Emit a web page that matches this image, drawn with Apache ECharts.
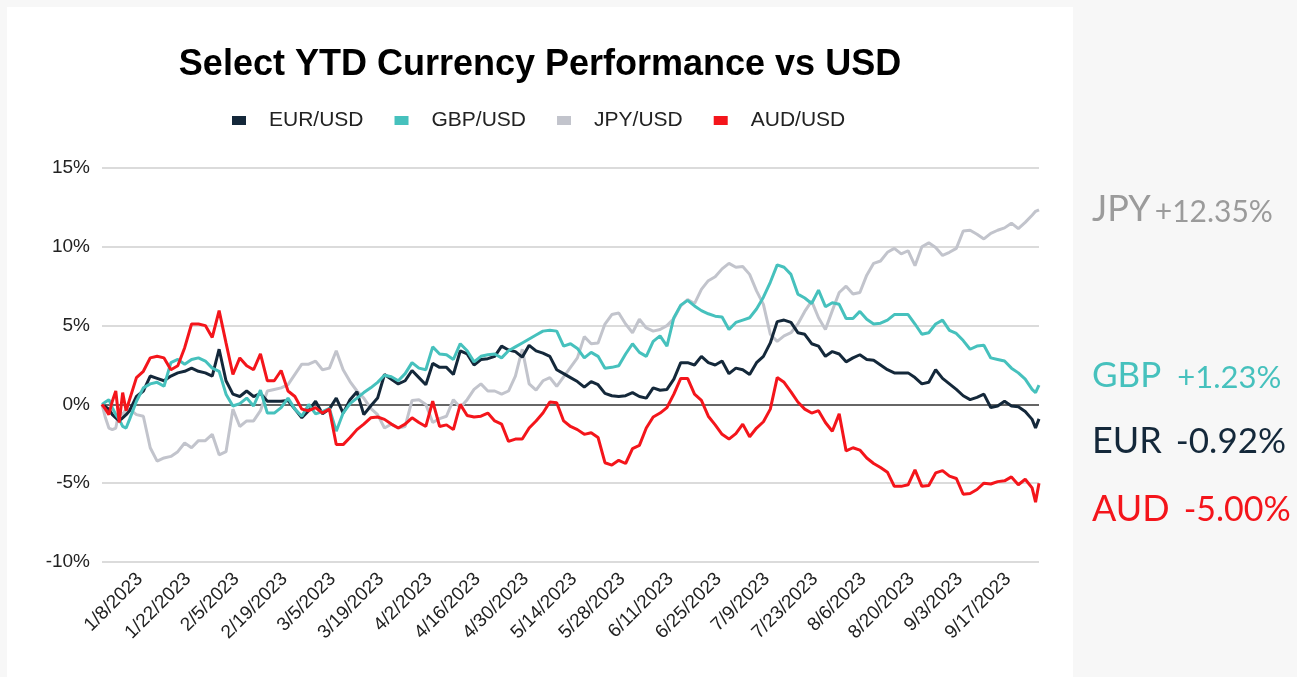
<!DOCTYPE html>
<html>
<head>
<meta charset="utf-8">
<title>Select YTD Currency Performance vs USD</title>
<script src="https://cdn.jsdelivr.net/npm/echarts@6/dist/echarts.min.js"></script>
<style>
  html, body { margin: 0; padding: 0; background: #f7f7f7; }
  #chart { width: 1297px; height: 677px; }
</style>
</head>
<body>
<div id="chart"></div>
<script>
var obsDates = [
  '12/28/2022','12/29/2022','12/30/2022','12/31/2022','1/1/2023','1/2/2023','1/3/2023','1/4/2023','1/5/2023',
  '1/7/2023','1/9/2023','1/11/2023','1/13/2023','1/15/2023','1/17/2023','1/19/2023','1/21/2023','1/23/2023',
  '1/25/2023','1/27/2023','1/29/2023','1/31/2023','2/2/2023','2/4/2023','2/6/2023','2/8/2023','2/10/2023',
  '2/12/2023','2/14/2023','2/16/2023','2/18/2023','2/20/2023','2/22/2023','2/24/2023','2/26/2023','2/28/2023',
  '3/2/2023','3/4/2023','3/6/2023','3/8/2023','3/10/2023','3/12/2023','3/14/2023','3/16/2023','3/18/2023',
  '3/20/2023','3/22/2023','3/24/2023','3/26/2023','3/28/2023','3/30/2023','4/1/2023','4/3/2023','4/5/2023',
  '4/7/2023','4/9/2023','4/11/2023','4/13/2023','4/15/2023','4/17/2023','4/19/2023','4/21/2023','4/23/2023',
  '4/25/2023','4/27/2023','4/29/2023','5/1/2023','5/3/2023','5/5/2023','5/7/2023','5/9/2023','5/11/2023',
  '5/13/2023','5/15/2023','5/17/2023','5/19/2023','5/21/2023','5/23/2023','5/25/2023','5/27/2023','5/29/2023',
  '5/31/2023','6/2/2023','6/4/2023','6/6/2023','6/8/2023','6/10/2023','6/12/2023','6/14/2023','6/16/2023',
  '6/18/2023','6/20/2023','6/22/2023','6/24/2023','6/26/2023','6/28/2023','6/30/2023','7/2/2023','7/4/2023',
  '7/6/2023','7/8/2023','7/10/2023','7/12/2023','7/14/2023','7/16/2023','7/18/2023','7/20/2023','7/22/2023',
  '7/24/2023','7/26/2023','7/28/2023','7/30/2023','8/1/2023','8/3/2023','8/5/2023','8/7/2023','8/9/2023',
  '8/11/2023','8/13/2023','8/15/2023','8/17/2023','8/19/2023','8/21/2023','8/23/2023','8/25/2023','8/27/2023',
  '8/29/2023','8/31/2023','9/2/2023','9/4/2023','9/6/2023','9/8/2023','9/10/2023','9/12/2023','9/14/2023',
  '9/16/2023','9/18/2023','9/20/2023','9/22/2023','9/24/2023','9/25/2023','9/26/2023'
];

var eurUsd = [
  0,-0.15,-0.3,-0.65,-0.85,-1.05,-0.85,-0.65,-0.4,
  0.5,0.85,1.8,1.65,1.5,1.8,2.0,2.1,2.3,
  2.1,2.0,1.8,3.5,1.5,0.65,0.5,0.85,0.5,
  0.7,0.2,0.2,0.2,0.25,-0.3,-0.85,-0.4,0.2,
  -0.6,-0.3,0.4,-0.55,0.3,0.8,-0.65,-0.1,0.4,
  1.9,1.6,1.3,1.5,2.15,1.7,1.25,2.6,2.35,
  2.35,1.9,3.4,3.2,2.5,2.85,2.9,3.05,3.7,
  3.45,3.35,3.0,3.75,3.4,3.25,3.05,2.2,1.95,
  1.7,1.45,1.1,1.45,1.25,0.7,0.55,0.5,0.55,
  0.75,0.5,0.4,1.05,0.9,0.95,1.6,2.65,2.65,
  2.5,3.05,2.65,2.5,2.75,1.95,2.3,2.2,1.9,
  2.65,3.05,3.9,5.25,5.35,5.2,4.55,4.45,3.85,
  3.7,3.05,3.35,3.2,2.7,2.95,3.15,2.85,2.8,
  2.5,2.2,2.0,2.0,2.0,1.7,1.3,1.4,2.2,
  1.65,1.3,0.95,0.55,0.3,0.45,0.65,-0.2,-0.1,
  0.2,-0.1,-0.15,-0.45,-0.95,-1.5,-0.92
];

var gbpUsd = [
  0,0.15,0.3,-0.2,-0.65,-0.95,-1.4,-1.5,-0.95,
  0.2,1.05,1.3,1.4,1.15,2.65,2.85,2.55,2.85,
  2.95,2.75,2.3,2.1,0.65,-0.1,0.05,0.4,-0.1,
  0.9,-0.55,-0.55,-0.2,0.4,-0.3,-0.75,0,-0.6,
  -0.45,-0.25,-1.7,-0.55,0.05,0.4,0.75,1.05,1.4,
  1.85,1.75,1.5,1.95,2.65,2.3,2.2,3.65,3.2,
  3.15,2.85,3.85,3.4,2.7,3.05,3.15,3.2,2.95,
  3.4,3.65,3.9,4.15,4.4,4.65,4.7,4.65,3.7,
  3.85,3.55,2.95,3.3,3.05,2.3,2.35,2.45,3.2,
  3.85,3.3,3.05,4.0,4.35,3.7,5.5,6.3,6.6,
  6.25,5.95,5.75,5.6,5.55,4.75,5.2,5.35,5.5,
  6.05,6.8,7.75,8.85,8.7,8.25,7.0,6.75,6.4,
  7.25,6.2,6.45,6.35,5.45,5.45,5.9,5.4,5.1,
  5.15,5.35,5.7,5.7,5.7,5.1,4.45,4.55,5.1,
  5.35,4.7,4.5,4.05,3.5,3.7,3.75,2.95,2.85,
  2.75,2.3,2.0,1.6,0.95,0.75,1.23
];

var jpyUsd = [
  0,-0.85,-1.5,-1.6,-1.5,-0.4,-0.65,-0.3,-0.3,
  -0.65,-0.75,-2.75,-3.6,-3.4,-3.3,-3.0,-2.45,-2.75,
  -2.3,-2.3,-1.9,-3.2,-3.0,-0.3,-1.4,-1.05,-1.05,
  -0.4,0.85,0.95,1.05,1.25,1.9,2.55,2.55,2.75,
  2.2,2.3,3.4,2.2,1.45,0.85,0.4,-0.25,-0.65,
  -1.5,-1.25,-1.5,-1.4,0.25,0.3,0,-1.15,-0.9,
  -0.75,0.3,-0.2,0.3,0.95,1.3,0.85,0.85,0.65,
  0.85,1.8,3.5,1.3,0.9,1.5,1.7,1.15,1.75,
  2.35,2.95,4.3,3.85,3.9,5.1,5.7,5.8,5.1,
  4.55,5.4,4.85,4.65,4.75,5.0,5.45,6.25,6.65,
  6.4,7.3,7.85,8.1,8.6,8.95,8.7,8.75,8.25,
  7.2,6.35,4.45,4.0,4.35,4.55,5.1,5.9,6.55,
  5.5,4.75,5.95,7.1,7.5,7.0,7.1,8.2,8.95,
  9.1,9.65,9.9,9.55,9.75,8.8,10.0,10.25,9.95,
  9.45,9.65,9.9,11.0,11.05,10.8,10.5,10.85,11.05,
  11.2,11.5,11.15,11.55,12.0,12.25,12.35
];

var audUsd = [
  0,-0.3,-0.65,0.2,0.85,-1.15,0.75,-0.4,0.3,
  1.7,2.1,2.95,3.05,2.95,2.2,2.45,3.6,5.1,
  5.1,5.0,4.25,5.95,3.9,1.9,2.95,2.45,2.2,
  3.2,1.5,1.5,2.15,0.85,0.5,-0.3,-0.4,-0.2,
  -0.55,-0.3,-2.55,-2.55,-2.1,-1.6,-1.25,-0.85,-0.8,
  -0.95,-1.25,-1.5,-1.25,-0.85,-1.15,-1.4,0.2,-1.4,
  -1.3,-1.6,0,-0.7,-0.8,-0.75,-0.55,-1.05,-1.25,
  -2.35,-2.2,-2.2,-1.5,-1.05,-0.55,0.15,0.1,-1.05,
  -1.4,-1.6,-1.9,-1.8,-2.1,-3.7,-3.85,-3.55,-3.75,
  -2.8,-2.6,-1.5,-0.8,-0.55,-0.2,0.65,1.65,1.65,
  0.65,0.25,-0.75,-1.3,-1.9,-2.2,-1.85,-1.25,-2.05,
  -1.5,-1.1,-0.3,1.7,1.4,0.8,0.15,-0.3,-0.55,
  -0.4,-1.15,-1.7,-0.6,-2.95,-2.75,-2.9,-3.4,-3.75,
  -4.0,-4.3,-5.2,-5.2,-5.1,-4.15,-5.2,-5.15,-4.35,
  -4.2,-4.55,-4.7,-5.7,-5.65,-5.4,-5.0,-5.05,-4.9,
  -4.85,-4.6,-5.1,-4.75,-5.3,-6.2,-5.0
];

var tickLabels = [
  '1/8/2023','1/22/2023','2/5/2023','2/19/2023','3/5/2023','3/19/2023','4/2/2023',
  '4/16/2023','4/30/2023','5/14/2023','5/28/2023','6/11/2023','6/25/2023','7/9/2023',
  '7/23/2023','8/6/2023','8/20/2023','9/3/2023','9/17/2023'
];
var yTicks = [-10, -5, 0, 5, 10, 15];

var seriesNames = ['EUR/USD', 'GBP/USD', 'JPY/USD', 'AUD/USD'];
var seriesColors = ['#14283a', '#46c1bd', '#c2c4cc', '#f4151b'];
var endLabels = [
  { cur: 'JPY', val: '+12.35%', color: '#9b9b9b' },
  { cur: 'GBP', val: '+1.23%', color: '#46c1bd' },
  { cur: 'EUR', val: '-0.92%', color: '#14283a' },
  { cur: 'AUD', val: '-5.00%', color: '#f4151b' }
];

// every calendar day between the first and last observation (axis categories)
var calendarDays = (function () {
  var out = [];
  var t = Date.UTC(2022, 11, 28), end = Date.UTC(2023, 8, 26);
  for (; t <= end; t += 86400000) {
    var d = new Date(t);
    out.push((d.getUTCMonth() + 1) + '/' + d.getUTCDate() + '/' + d.getUTCFullYear());
  }
  return out;
})();

var pairs = function (vals) {
  return vals.map(function (v, i) { return [obsDates[i], v]; });
};

var chart = echarts.init(document.getElementById('chart'));

var gridColors = yTicks.map(function (v) { return v === 0 ? '#333333' : '#cfcfcf'; });

// label layout in the grey margin: [currency size, number size, gap, top]
var labelFmt = [
  [36, 30, 4, 191],
  [35, 31, 16, 358],
  [36, 35, 14, 423],
  [36, 34, 14, 491]
];

var option = {
  backgroundColor: '#f7f7f7',
  animation: false,
  title: {
    text: 'Select YTD Currency Performance vs USD',
    left: 535,
    top: 42,
    textAlign: 'center',
    textStyle: {
      fontFamily: 'Liberation Sans, Arial, sans-serif',
      fontSize: 36,
      fontWeight: 'bold',
      color: '#000'
    }
  },
  legend: {
    data: seriesNames,
    left: 227,
    top: 105,
    icon: 'rect',
    itemWidth: 14,
    itemHeight: 9,
    itemGap: 31,
    textStyle: {
      fontFamily: 'Liberation Sans, Arial, sans-serif',
      fontSize: 21,
      color: '#222',
      padding: [0, 0, 0, 18]
    }
  },
  grid: { left: 102, right: 258, top: 168, bottom: 115 },
  xAxis: {
    type: 'category',
    data: calendarDays,
    boundaryGap: false,
    axisLine: { show: false },
    axisTick: { show: false },
    splitLine: { show: false },
    axisLabel: {
      interval: function (idx, val) { return tickLabels.indexOf(val) >= 0; },
      rotate: 45,
      margin: 14,
      fontFamily: 'Liberation Sans, Arial, sans-serif',
      fontSize: 19,
      color: '#222'
    }
  },
  yAxis: {
    type: 'value',
    min: -10,
    max: 15,
    interval: 5,
    axisLine: { show: false },
    axisTick: { show: false },
    axisLabel: {
      formatter: '{value}%',
      margin: 12,
      fontFamily: 'Liberation Sans, Arial, sans-serif',
      fontSize: 19,
      color: '#222'
    },
    splitLine: { lineStyle: { color: gridColors, width: 1.5 } }
  },
  series: [eurUsd, gbpUsd, jpyUsd, audUsd].map(function (vals, i) {
    return {
      name: seriesNames[i],
      type: 'line',
      data: pairs(vals),
      showSymbol: false,
      symbol: 'none',
      color: seriesColors[i],
      lineStyle: { width: 3, color: seriesColors[i] },
      z: i === 2 ? 1 : 2 + i
    };
  }),
  graphic: [
    {
      type: 'rect',
      shape: { x: 7, y: 7, width: 1066, height: 670 },
      style: { fill: '#ffffff' },
      z: -10,
      silent: true
    }
  ].concat(endLabels.map(function (l, i) {
    var f = labelFmt[i];
    return {
      type: 'text',
      left: 1092,
      top: f[3],
      style: {
        text: '{a|' + l.cur + '}{g|}{b|' + l.val + '}',
        rich: {
          a: { fontSize: f[0], fontFamily: 'Lato, sans-serif', fill: l.color, verticalAlign: 'bottom' },
          g: { width: f[2] },
          b: { fontSize: f[1], fontFamily: 'Lato, sans-serif', fill: l.color, verticalAlign: 'bottom' }
        },
        fill: l.color
      }
    };
  }))
};

chart.setOption(option);
</script>
</body>
</html>
